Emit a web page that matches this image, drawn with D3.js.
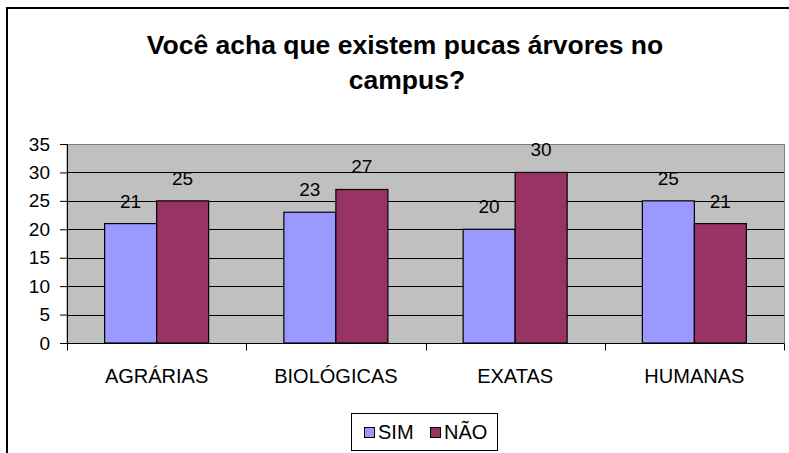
<!DOCTYPE html>
<html>
<head>
<meta charset="utf-8">
<script src="https://cdn.jsdelivr.net/npm/d3@7"></script>
<style>
  body { margin: 0; background: #fff; }
  svg { display: block; font-family: Arial, "Liberation Sans", sans-serif; }
</style>
</head>
<body>
<script>
// dados
var categorias = ["AGRÁRIAS", "BIOLÓGICAS", "EXATAS", "HUMANAS"];
var series = ["SIM", "NÃO"];
var sim = [21, 23, 20, 25];
var nao = [25, 27, 30, 21];
var yTicks = [0, 5, 10, 15, 20, 25, 30, 35];
var cores = ["#9999FF", "#993366"];

var width = 789, height = 453;
var pLeft = 67, pRight = 784, pTop = 144, pBottom = 343;

var svg = d3.select("body").append("svg")
  .attr("width", width)
  .attr("height", height);

// moldura (só topo e esquerda aparecem)
svg.append("line").attr("x1", 6).attr("x2", width).attr("y1", 8).attr("y2", 8)
  .attr("stroke", "#000").attr("stroke-width", 2);
svg.append("line").attr("x1", 7).attr("x2", 7).attr("y1", 7).attr("y2", height)
  .attr("stroke", "#000").attr("stroke-width", 2);

// titulo
var title = svg.append("text")
  .attr("text-anchor", "middle")
  .attr("font-size", 26.5)
  .attr("font-weight", "bold");
title.append("tspan").attr("x", 405).attr("y", 54).text("Você acha que existem pucas árvores no");
title.append("tspan").attr("x", 407).attr("y", 89).text("campus?");

var x0 = d3.scaleBand().domain(categorias).range([pLeft, pRight]);
var x1 = d3.scaleBand().domain(series).range([x0.bandwidth() / 2 - 52, x0.bandwidth() / 2 + 52]);
var y = d3.scaleLinear().domain([0, 35]).range([pBottom, pTop]);

// area do grafico
svg.append("rect")
  .attr("x", pLeft).attr("y", pTop + 0.5)
  .attr("width", pRight - pLeft + 0.5).attr("height", pBottom - pTop)
  .attr("fill", "#C0C0C0")
  .attr("stroke", "#808080");

// linhas de grade
svg.append("g").selectAll("line").data(yTicks.filter(function(d){ return d > 0 && d < 35; }))
  .enter().append("line")
  .attr("x1", pLeft).attr("x2", pRight)
  .attr("y1", function(d){ return Math.round(y(d)) + 0.5; })
  .attr("y2", function(d){ return Math.round(y(d)) + 0.5; })
  .attr("stroke", "#000");

// barras
var dados = categorias.map(function(c, i){
  return [{cat: c, s: "SIM", v: sim[i]}, {cat: c, s: "NÃO", v: nao[i]}];
});

var grupos = svg.append("g").selectAll("g").data(dados).enter().append("g")
  .attr("transform", function(d){ return "translate(" + x0(d[0].cat) + ",0)"; });

grupos.selectAll("rect").data(function(d){ return d; }).enter().append("rect")
  .attr("x", function(d){ return x1(d.s); })
  .attr("y", function(d){ return y(d.v); })
  .attr("width", x1.bandwidth())
  .attr("height", function(d){ return pBottom - y(d.v); })
  .attr("fill", function(d, i){ return cores[i]; })
  .attr("stroke", "#000")
  .attr("stroke-width", 1.2);

grupos.selectAll("text").data(function(d){ return d; }).enter().append("text")
  .attr("x", function(d){ return x1(d.s) + x1.bandwidth() / 2; })
  .attr("y", function(d){ return y(d.v) - 16; })
  .attr("text-anchor", "middle")
  .attr("font-size", 19)
  .text(function(d){ return d.v; });

// eixo y
var yAxis = d3.axisLeft(y).tickValues(yTicks).tickSize(7).tickPadding(10);
var gy = svg.append("g").attr("transform", "translate(" + pLeft + ",0)").call(yAxis);
gy.selectAll("text").attr("font-size", 19).attr("fill", "#000").attr("font-family", "Arial, 'Liberation Sans', sans-serif");
gy.selectAll("line, path").attr("stroke", "#000");
gy.select(".domain").attr("d", "M0.5," + pTop + "V" + pBottom);

// eixo x
var gx = svg.append("g").attr("transform", "translate(0," + (pBottom + 0.5) + ")");
gx.append("line").attr("x1", pLeft - 7).attr("x2", pRight).attr("stroke", "#000");
gx.selectAll(".tk").data(categorias.concat(["fim"])).enter().append("line")
  .attr("x1", function(d, i){ return Math.round(pLeft + i * x0.step()) + 0.5; })
  .attr("x2", function(d, i){ return Math.round(pLeft + i * x0.step()) + 0.5; })
  .attr("y1", 0).attr("y2", 7)
  .attr("stroke", "#000");
gx.selectAll("text").data(categorias).enter().append("text")
  .attr("x", function(d){ return x0(d) + x0.bandwidth() / 2; })
  .attr("y", 39)
  .attr("text-anchor", "middle")
  .attr("font-size", 20)
  .text(function(d){ return d; });

// legenda
var leg = svg.append("g");
leg.append("rect").attr("x", 351.5).attr("y", 413.5).attr("width", 146).attr("height", 37)
  .attr("fill", "#fff").attr("stroke", "#000");
var itens = [{s: "SIM", x: 364}, {s: "NÃO", x: 430}];
itens.forEach(function(it, i){
  leg.append("rect").attr("x", it.x + 0.5).attr("y", 427.5).attr("width", 10).attr("height", 10)
    .attr("fill", cores[i]).attr("stroke", "#000");
  leg.append("text").attr("x", it.x + 14).attr("y", 439).attr("font-size", 20).text(it.s);
});
</script>
</body>
</html>
